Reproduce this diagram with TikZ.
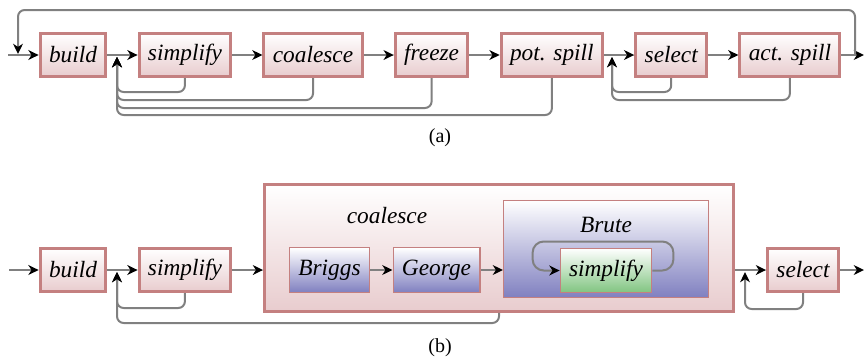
\documentclass[tikz,border=0pt]{standalone}
\usepackage{fontspec}
\setmainfont{Liberation Serif}
\usetikzlibrary{arrows.meta, positioning, calc}
\definecolor{bPhase}{RGB}{196, 128, 128}
\definecolor{cPhase}{RGB}{232, 204, 206}
\definecolor{cSub}{RGB}{128, 128, 192}
\definecolor{cInner}{RGB}{128, 196, 128}
\definecolor{tLine}{RGB}{128, 128, 128}

\begin{document}
\begin{tikzpicture}[
    x=0.45pt, y=-0.45pt,
    font=\fontsize{10.5}{12}\selectfont\itshape,
    >={Stealth[black, length=4.6pt, width=4.4pt, inset=1.4pt]},
    node distance=13.6pt,
    phase/.style={
        draw=bPhase,
        line width=1.35pt,
        top color=white,
        bottom color=cPhase,
        minimum height=19.4pt,
        inner xsep=4pt
    },
    sub/.style={
        draw=bPhase,
        line width=0.5pt,
        top color=white,
        bottom color=#1,
        minimum height=20pt,
        inner xsep=4pt
    },
    arrow/.style={->, line width=0.9pt, draw=tLine},
    back/.style={->, line width=0.9pt, draw=tLine, rounded corners=3pt},
    caption/.style={font=\fontsize{9}{10}\selectfont\upshape}
]
\useasboundingbox (0,0) rectangle (865,358);

% Row (a): the iterated phases
\node[phase] (buildA) at (73,55) {build};
\node[phase, right=of buildA] (simplifyA) {simplify};
\node[phase, right=of simplifyA] (coalesceA) {coalesce};
\node[phase, right=of coalesceA] (freezeA) {freeze};
\node[phase, right=of freezeA] (potA) {pot. spill};
\node[phase, right=of potA] (selectA) {select};
\node[phase, right=of selectA] (actA) {act. spill};

\coordinate (inA) at (8,55);
\coordinate (outA) at (864,55);
\coordinate (topR) at (855,55);
\coordinate (topL) at (18,54);
\coordinate (joinA) at (117,57);
\coordinate (joinS) at (612,57);

\draw[arrow] (inA) -- (buildA);
\draw[arrow] (buildA) -- (simplifyA);
\draw[arrow] (simplifyA) -- (coalesceA);
\draw[arrow] (coalesceA) -- (freezeA);
\draw[arrow] (freezeA) -- (potA);
\draw[arrow] (potA) -- (selectA);
\draw[arrow] (selectA) -- (actA);
\draw[arrow] (actA) -- (outA);

\draw[back] (simplifyA.south) |- ($(joinA)+(0,35)$) -- (joinA);
\draw[back] (coalesceA.south) |- ($(joinA)+(0,43)$) -- (joinA);
\draw[back] (freezeA.south) |- ($(joinA)+(0,51)$) -- (joinA);
\draw[back] (potA.south) |- ($(joinA)+(0,58)$) -- (joinA);
\draw[back] (selectA.south) |- ($(joinS)+(0,35)$) -- (joinS);
\draw[back] (actA.south) |- ($(joinS)+(0,43)$) -- (joinS);
\draw[back] (topR) -- ++(0,-45) -| (topL);

\node[caption] (capA) at (440,138) {(a)};

% Row (b): coalesce split into Briggs, George and Brute
\node[phase] (buildB) at (73,270) {build};
\node[phase, right=of buildB] (simplifyB) {simplify};
\node[phase, minimum width=211pt, minimum height=57pt] (coal) at (499,248) {};
\node (coalTitle) at (387,216) {coalesce};
\node[sub=cSub] (briggs) at (329.5,270) {Briggs};
\node[sub=cSub] (george) at (436.5,270) {George};
\node[sub=cSub, minimum width=92.2pt, minimum height=43.6pt] (brute) at (606,249) {};
\node (bruteTitle) at (606,225) {Brute};
\node[sub=cInner] (bsimp) at (606,270.5) {simplify};
\node[phase] (selectB) at (803,270) {select};

\coordinate (inB) at (9,270);
\coordinate (outB) at (864,270);
\coordinate (joinB) at (117,272);
\coordinate (joinC) at (745,272);

\draw[arrow] (inB) -- (buildB);
\draw[arrow] (buildB) -- (simplifyB);
\draw[arrow] (simplifyB) -- (simplifyB -| coal.west);
\draw[arrow] (briggs) -- (george);
\draw[arrow] (george) -- (george -| brute.west);
\draw[arrow] (coal.east |- selectB) -- (selectB);
\draw[arrow] (selectB) -- (outB);

\draw[back, rounded corners=5pt] (bsimp.east) -| ++(21,-29) -| ($(bsimp.west)+(-27,0)$) -- (bsimp.west);
\draw[back] (simplifyB.south) |- ($(joinB)+(0,36)$) -- (joinB);
\draw[back] (coal.south) |- ($(joinB)+(0,51)$) -- (joinB);
\draw[back] (selectB.south) |- ($(joinC)+(0,37)$) -- (joinC);

\node[caption] (capB) at (440,348) {(b)};

\end{tikzpicture}
\end{document}
